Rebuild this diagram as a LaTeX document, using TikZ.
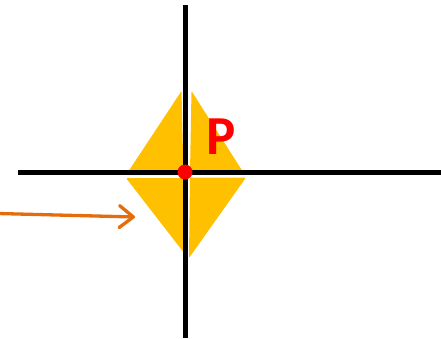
\documentclass[tikz,border=0pt]{standalone}
\usepackage{fontspec}
\setsansfont{Carlito}
\usetikzlibrary{arrows.meta}
\definecolor{wingyellow}{HTML}{FFC000}
\definecolor{arroworange}{HTML}{E46C0A}
\definecolor{pointred}{HTML}{FF0000}

\begin{document}
\begin{tikzpicture}[x=1pt,y=-1pt,
  axis/.style={line width=5pt,black},
  wing/.style={fill=wingyellow,rounded corners=1.2pt},
  pointer/.style={arroworange,line width=3.3pt,line cap=round,
    -{Straight Barb[length=14pt,width=22pt,line width=3.3pt,round]}}]
  \useasboundingbox (0,0) rectangle (441,338);
  % four yellow triangles
  \fill[wing] (181.5,91) -- (126,175) -- (183.5,175) -- cycle;
  \fill[wing] (191.5,91) -- (243,172) -- (190,172) -- cycle;
  \fill[wing] (126,178) -- (183,178) -- (188,258) -- cycle;
  \fill[wing] (190,177.5) -- (246,177.5) -- (189,258) -- cycle;
  % axes
  \coordinate (top) at (185,5);
  \coordinate (bottom) at (185,338);
  \coordinate (left) at (18,172);
  \coordinate (right) at (441,172);
  \draw[axis] (top) -- (bottom);
  \draw[axis] (left) -- (right);
  \node[circle,fill=pointred,inner sep=0pt,minimum size=15pt] (dot) at (185,172) {};
  \node[pointred,font=\sffamily\bfseries\fontsize{55}{55}\selectfont] (P) at (221,137) {P};
  % arrow
  \coordinate (tail) at (-2,213.5);
  \coordinate (head) at (135,217);
  \draw[pointer] (tail) -- (head);
\end{tikzpicture}
\end{document}
